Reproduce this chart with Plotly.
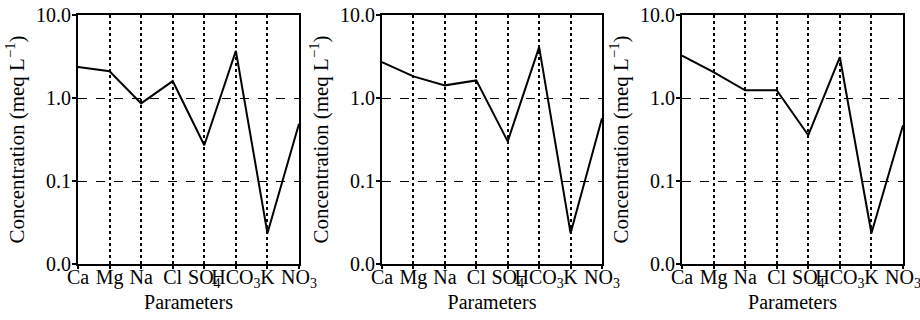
import plotly.graph_objects as go

categories = ["Ca", "Mg", "Na", "Cl", "SO<sub>4</sub>", "HCO<sub>3</sub>", "K", "NO<sub>3</sub>"]
panel1 = [2.36, 2.1, 0.86, 1.6, 0.27, 3.7, 0.0235, 0.49]
panel2 = [2.7, 1.82, 1.42, 1.63, 0.30, 4.1, 0.0235, 0.57]
panel3 = [3.25, 2.05, 1.24, 1.24, 0.356, 3.1, 0.0235, 0.47]
ytick_vals = [0.01, 0.1, 1.0, 10.0]
ytick_text = ["0.0", "0.1", "1.0", "10.0"]

series = [panel1, panel2, panel3]
W, H = 920, 320
xdoms = [(78, 299), (382, 602), (682, 903)]
ytop, ybot = 15, 264
ydom = ((H - ybot) / H, (H - ytop) / H)

font = dict(family="Liberation Serif, Times New Roman, serif", size=20, color="black")
title_font = dict(family="Liberation Serif, Times New Roman, serif", size=21, color="black")
fig = go.Figure()
xpos = list(range(len(categories)))

for i, vals in enumerate(series):
    n = "" if i == 0 else str(i + 1)
    fig.add_trace(go.Scatter(
        x=xpos, y=vals, mode="lines",
        line=dict(color="black", width=2),
        xaxis="x" + n, yaxis="y" + n, showlegend=False, hoverinfo="skip",
    ))
    fig.layout["xaxis" + n] = dict(
        domain=[xdoms[i][0] / W, xdoms[i][1] / W], anchor="y" + n,
        range=[0, len(categories) - 1], tickvals=xpos, ticktext=categories,
        tickangle=0, automargin=False, ticklabelstandoff=-9,
        ticklabeloverflow="allow",
        showline=True, linecolor="black", linewidth=2, mirror=True,
        ticks="outside", ticklen=3, tickwidth=1.5, tickcolor="black",
        showgrid=True, gridcolor="black", griddash="dot", gridwidth=1.5,
        zeroline=False, tickfont=font,
        title=dict(text="Parameters", font=font, standoff=4),
    )
    fig.layout["yaxis" + n] = dict(
        domain=list(ydom), anchor="x" + n, type="log", range=[-2, 1],
        tickvals=ytick_vals, ticktext=ytick_text, automargin=False,
        ticklabelstandoff=-3, ticklabeloverflow="allow",
        showline=True, linecolor="black", linewidth=2, mirror=True,
        ticks="outside", ticklen=4, tickwidth=1.5, tickcolor="black",
        showgrid=True, gridcolor="black", griddash="dash", gridwidth=1.2,
        zeroline=False, tickfont=font,
        title=dict(text="Concentration (meq L<sup>−1</sup>)", font=title_font, standoff=6),
    )

fig.update_layout(
    width=W, height=H, margin=dict(l=0, r=0, t=0, b=0),
    paper_bgcolor="white", plot_bgcolor="white", font=font,
)
fig.write_html(
    "out.html",
    config={"displayModeBar": False},
    post_script="document.body.style.margin='0px';document.body.style.overflow='hidden';",
)
